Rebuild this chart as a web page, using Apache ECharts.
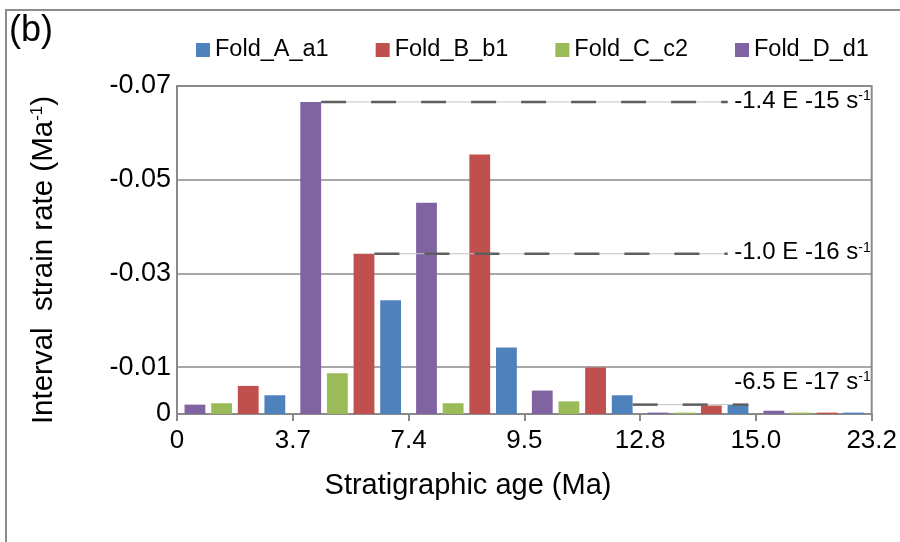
<!DOCTYPE html>
<html>
<head>
<meta charset="utf-8">
<script src="https://cdn.jsdelivr.net/npm/echarts@6/dist/echarts.min.js"></script>
<style>
  html, body { margin: 0; padding: 0; background: #fff; }
  #chart { width: 900px; height: 542px; }
</style>
</head>
<body>
<div id="chart"></div>
<script>
// Stratigraphic age boundaries (Ma) shown under the interval edges
const ageTicks = ['0', '3.7', '7.4', '9.5', '12.8', '15.0', '23.2'];
// Age intervals (one bar group per interval)
const intervals = ['0-3.7', '3.7-7.4', '7.4-9.5', '9.5-12.8', '12.8-15.0', '15.0-23.2'];

// Interval strain rate (Ma^-1) per fold
const foldA = [-0.0040, -0.0243, -0.0142, -0.0040, -0.0020, -0.0003];
const foldB = [-0.0060, -0.0342, -0.0554, -0.0099, -0.0018, -0.0003];
const foldC = [-0.0023, -0.0087, -0.0023, -0.0027, -0.0003, -0.0003];
const foldD = [-0.0020, -0.0666, -0.0451, -0.0050, -0.0003, -0.0007];

// Strain-rate annotations in s^-1
const rateNotes = ['-1.4 E -15 s', '-1.0 E -16 s', '-6.5 E -17 s'];

const FONT = '"Liberation Sans", Arial, Helvetica, sans-serif';
const colors = { A: '#4f81bd', B: '#c0504d', C: '#9bbb59', D: '#8064a2' };

const chart = echarts.init(document.getElementById('chart'), null, { renderer: 'canvas' });

function barSeries(name, data, color) {
  return {
    name: name,
    type: 'bar',
    data: data,
    xAxisIndex: 0,
    yAxisIndex: 0,
    barGap: '28%',
    barCategoryGap: '13%',
    itemStyle: { color: color },
    emphasis: { disabled: true }
  };
}

chart.setOption({
  animation: false,
  textStyle: { fontFamily: FONT },
  grid: {
    left: 177, right: 20, top: 86, bottom: 128,
    show: true, borderColor: '#8a8a8a', borderWidth: 2
  },
  legend: {
    data: ['Fold_A_a1', 'Fold_B_b1', 'Fold_C_c2', 'Fold_D_d1'],
    left: 196, top: 38, padding: 0,
    icon: 'rect', itemWidth: 14, itemHeight: 14, itemGap: 47,
    textStyle: { fontSize: 23.5, color: '#000', fontFamily: FONT }
  },
  xAxis: [
    {
      type: 'category', data: intervals, boundaryGap: true, position: 'bottom',
      axisLine: { lineStyle: { color: '#8a8a8a', width: 2 } },
      axisTick: { show: true, length: 7, lineStyle: { color: '#8a8a8a', width: 2 } },
      axisLabel: { show: false },
      splitLine: { show: false }
    },
    {
      type: 'category', data: ageTicks, boundaryGap: false, position: 'bottom',
      axisLine: { show: false }, axisTick: { show: false },
      axisLabel: { fontSize: 26, color: '#000', margin: 14, fontFamily: FONT, interval: 0 },
      splitLine: { show: false }
    }
  ],
  yAxis: {
    type: 'value', inverse: true, min: -0.07, max: 0, interval: 0.02,
    axisLine: { show: false }, axisTick: { show: false },
    axisLabel: {
      fontSize: 27, color: '#000', margin: 6, fontFamily: FONT,
      formatter: function (v) { return Math.abs(v) < 1e-9 ? '0' : v.toFixed(2); }
    },
    splitLine: { lineStyle: { color: '#8a8a8a', width: 1.5 } }
  },
  series: [
    barSeries('Fold_D_d1', foldD, colors.D),
    barSeries('Fold_C_c2', foldC, colors.C),
    barSeries('Fold_B_b1', foldB, colors.B),
    barSeries('Fold_A_a1', foldA, colors.A)
  ]
});

// Annotation lines start at the right edge of a reference bar and run toward the label
const model = chart.getModel();
function barRect(seriesIndex, dataIndex) {
  const l = model.getSeriesByIndex(seriesIndex).getData().getItemLayout(dataIndex);
  return { left: l.x, right: l.x + l.width, top: Math.min(l.y, l.y + l.height) };
}
const gridRect = model.getComponent('grid').coordinateSystem.getRect();
const gridRight = gridRect.x + gridRect.width;

// series index: 0 = D, 1 = C, 2 = B, 3 = A
const annotations = [
  { from: barRect(0, 1), yVal: foldD[1], toRightOfGrid: 144, note: rateNotes[0], labelDy: -1 },
  { from: barRect(2, 1), yVal: foldB[1], toRightOfGrid: 144, note: rateNotes[1], labelDy: -1 },
  { from: barRect(3, 3), yVal: foldA[4], toBar: barRect(3, 4), note: rateNotes[2], labelDy: -22 }
];

const graphics = [
  // outer frame
  { type: 'polyline', silent: true, shape: { points: [[6, 542], [6, 10], [900, 10]] },
    style: { stroke: '#8c8c8c', lineWidth: 2, fill: null } },
  { type: 'text', silent: true, left: 9, top: 13,
    style: { text: '(b)', font: '36px ' + FONT, fill: '#000' } },
  // axis titles
  { type: 'text', silent: true, x: 468, y: 486,
    style: { text: 'Stratigraphic age (Ma)', font: '29px ' + FONT, fill: '#000',
      align: 'center', verticalAlign: 'middle' } },
  { type: 'text', silent: true, x: 44, y: 260, rotation: Math.PI / 2,
    style: { text: 'Interval  strain rate (Ma{sup|-1})', font: '29.5px ' + FONT, fill: '#000',
      align: 'center', verticalAlign: 'middle',
      rich: { sup: { fontSize: 17, verticalAlign: 'top', fontFamily: FONT, fill: '#000' } } } }
];

annotations.forEach(function (a) {
  const y = chart.convertToPixel({ yAxisIndex: 0 }, a.yVal);
  const x0 = a.from.right;
  const x1 = a.toBar ? a.toBar.right : gridRight - a.toRightOfGrid;
  graphics.push({ type: 'line', silent: true, z: 10,
    shape: { x1: x0, y1: y, x2: x1, y2: y },
    style: { stroke: '#c4c4c4', lineWidth: 1 } });
  graphics.push({ type: 'line', silent: true, z: 11,
    shape: { x1: x0, y1: y, x2: x1, y2: y },
    style: { stroke: '#5e5e5e', lineWidth: 2.5, lineDash: [25, 25] } });
  graphics.push({ type: 'text', silent: true, z: 12, x: gridRight - 1, y: y + a.labelDy,
    style: { text: a.note + '{sup|-1}', font: '24px ' + FONT, fill: '#000',
      align: 'right', verticalAlign: 'middle',
      rich: { sup: { fontSize: 14, verticalAlign: 'top', fontFamily: FONT, fill: '#000' } } } });
});

chart.setOption({ graphic: graphics });
</script>
</body>
</html>
